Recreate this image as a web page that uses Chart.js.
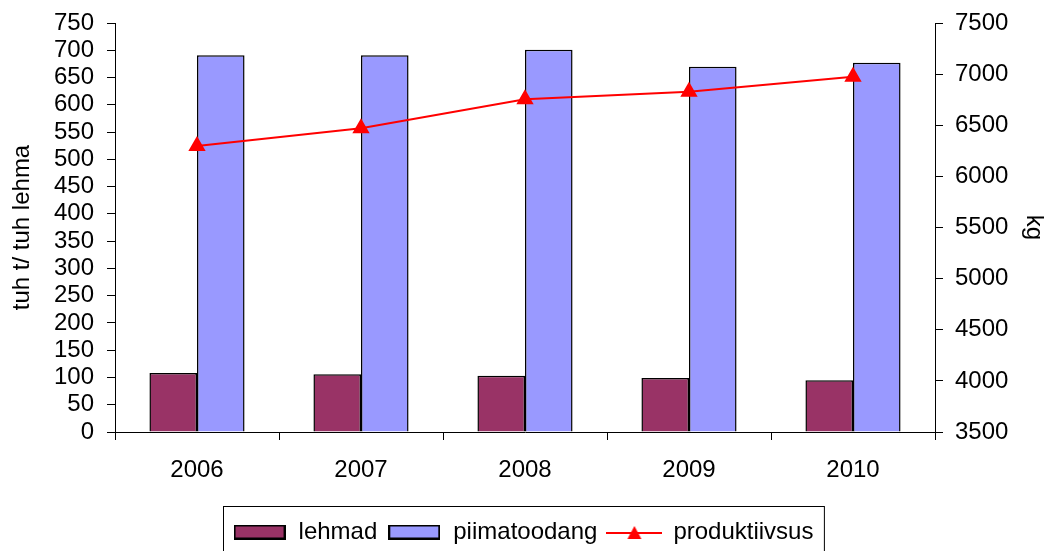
<!DOCTYPE html>
<html>
<head>
<meta charset="utf-8">
<script src="https://cdn.jsdelivr.net/npm/chart.js@4/dist/chart.umd.min.js"></script>
<style>
    html, body { margin: 0; padding: 0; background: #fff; }
</style>
</head>
<body>
<canvas id="chart" width="1046" height="551"></canvas>
<script>
// data
const years = ['2006', '2007', '2008', '2009', '2010'];
const lehmad = [108, 106, 103, 99, 95];
const piimatoodang = [691, 691, 701, 670, 677];
const produktiivsus = [6297, 6470, 6754, 6828, 6975];

const FONT = 'Liberation Sans, Arial, sans-serif';
const SIZE = 24;

// legend swatches drawn as small canvases
function barSwatch(fill) {
    const c = document.createElement('canvas');
    c.width = 52; c.height = 15;
    const g = c.getContext('2d');
    g.fillStyle = fill;
    g.fillRect(1, 1, 50, 13);
    g.strokeStyle = '#000';
    g.lineWidth = 2;
    g.strokeRect(1, 1, 50, 13);
    return c;
}
function lineSwatch() {
    const c = document.createElement('canvas');
    c.width = 56; c.height = 16;
    const g = c.getContext('2d');
    g.strokeStyle = '#ff0000';
    g.lineWidth = 2;
    g.beginPath(); g.moveTo(0, 9); g.lineTo(56, 9); g.stroke();
    g.fillStyle = '#ff0000';
    g.beginPath(); g.moveTo(28, 2); g.lineTo(35, 15); g.lineTo(21, 15); g.closePath(); g.fill();
    return c;
}
const swatches = [barSwatch('#993366'), barSwatch('#9999ff'), lineSwatch()];

// frame around the legend
const legendFrame = {
    id: 'legendFrame',
    afterDraw(chart) {
        const boxes = chart.legend.legendHitBoxes;
        if (!boxes || !boxes.length) return;
        const left = Math.min(...boxes.map(b => b.left));
        const right = Math.max(...boxes.map(b => b.left + b.width));
        const top = Math.min(...boxes.map(b => b.top));
        const ctx = chart.ctx;
        ctx.save();
        ctx.strokeStyle = '#000';
        ctx.lineWidth = 1;
        ctx.strokeRect(Math.round(left - 10) + 0.5, Math.round(top - 14) + 0.5, right - left + 20, 80);
        ctx.restore();
    }
};

// keep the label overhang from pushing the plot area in
function noLabelPadding(s) {
    s.paddingTop = 0;
    s.paddingBottom = 0;
}

new Chart(document.getElementById('chart'), {
    type: 'bar',
    data: {
        labels: years,
        datasets: [{
            label: 'lehmad',
            data: lehmad,
            backgroundColor: '#993366',
            borderColor: '#000',
            borderWidth: 1.5,
            yAxisID: 'y',
            order: 2
        }, {
            label: 'piimatoodang',
            data: piimatoodang,
            backgroundColor: '#9999ff',
            borderColor: '#000',
            borderWidth: 1.5,
            yAxisID: 'y',
            order: 2
        }, {
            type: 'line',
            label: 'produktiivsus',
            data: produktiivsus,
            borderColor: '#ff0000',
            backgroundColor: '#ff0000',
            borderWidth: 2,
            pointStyle: 'triangle',
            pointRadius: 8,
            tension: 0,
            yAxisID: 'y1',
            order: 1
        }]
    },
    options: {
        responsive: false,
        animation: false,
        categoryPercentage: 0.58,
        barPercentage: 1,
        layout: { padding: { top: 23, left: 0, right: 0, bottom: -3 } },
        plugins: {
            tooltip: { enabled: false },
            legend: {
                position: 'bottom',
                labels: {
                    color: '#000',
                    font: { family: FONT, size: SIZE },
                    usePointStyle: true,
                    pointStyleWidth: 54,
                    boxHeight: 15,
                    padding: 10,
                    sort: (a, b) => a.datasetIndex - b.datasetIndex,
                    generateLabels(chart) {
                        const items = Chart.defaults.plugins.legend.labels.generateLabels(chart);
                        items.forEach(it => { it.pointStyle = swatches[it.datasetIndex]; });
                        return items;
                    }
                }
            }
        },
        scales: {
            x: {
                grid: { offset: true, drawOnChartArea: false, tickLength: 8, color: '#000' },
                border: { color: '#000', width: 1 },
                ticks: { color: '#000', font: { family: FONT, size: SIZE }, padding: 16, maxRotation: 0 },
                afterFit(s) { s.height = 78; }
            },
            y: {
                position: 'left',
                min: 0,
                max: 750,
                ticks: { stepSize: 50, autoSkip: false, color: '#000', font: { family: FONT, size: SIZE }, padding: 13 },
                grid: { drawOnChartArea: false, tickLength: 8, color: '#000' },
                border: { color: '#000', width: 1 },
                title: {
                    display: true,
                    text: 'tuh t/ tuh lehma',
                    color: '#000',
                    font: { family: FONT, size: SIZE },
                    padding: { top: 8, bottom: 0 }
                },
                afterFit(s) { s.width = 115; noLabelPadding(s); }
            },
            y1: {
                position: 'right',
                min: 3500,
                max: 7500,
                ticks: {
                    stepSize: 500, autoSkip: false, color: '#000',
                    font: { family: FONT, size: SIZE }, padding: 12,
                    callback: v => String(v)
                },
                grid: { drawOnChartArea: false, tickLength: 8, color: '#000' },
                border: { color: '#000', width: 1 },
                title: {
                    display: true,
                    text: 'kg',
                    color: '#000',
                    font: { family: FONT, size: SIZE, lineHeight: 1 },
                    padding: { top: 0, bottom: 0 }
                },
                afterFit(s) { s.width = 111; noLabelPadding(s); }
            }
        }
    },
    plugins: [legendFrame]
});
</script>
</body>
</html>
